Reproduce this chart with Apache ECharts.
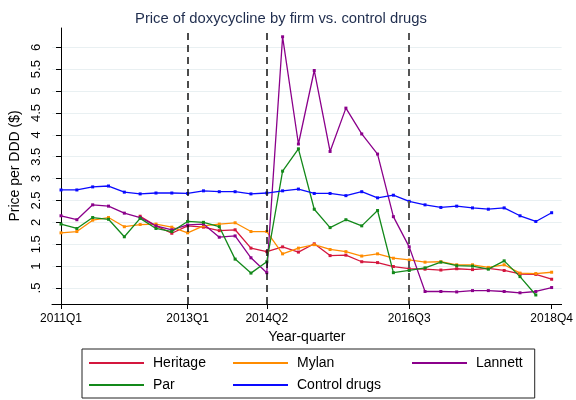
<!DOCTYPE html>
<html>
<head>
<meta charset="utf-8">
<script src="https://cdn.jsdelivr.net/npm/echarts@6/dist/echarts.min.js"></script>
<style>
  html, body { margin: 0; padding: 0; background: #fff; }
  #chart { width: 576px; height: 400px; }
</style>
</head>
<body>
<div id="chart"></div>
<script>
// quarters 2011Q1 .. 2018Q4
const quarters = [
  '2011Q1','2011Q2','2011Q3','2011Q4','2012Q1','2012Q2','2012Q3','2012Q4',
  '2013Q1','2013Q2','2013Q3','2013Q4','2014Q1','2014Q2','2014Q3','2014Q4',
  '2015Q1','2015Q2','2015Q3','2015Q4','2016Q1','2016Q2','2016Q3','2016Q4',
  '2017Q1','2017Q2','2017Q3','2017Q4','2018Q1','2018Q2','2018Q3','2018Q4'
]
const xTickLabels = ['2011Q1', '2013Q1', '2014Q2', '2016Q3', '2018Q4']
const eventQuarters = ['2013Q1', '2014Q2', '2016Q3']
const yTicks = [0.5, 1, 1.5, 2, 2.5, 3, 3.5, 4, 4.5, 5, 5.5, 6]

// price per DDD ($)
const heritage = [null, null, null, null, null, 2.14, 1.92, 1.75,
  1.92, 1.89, 1.81, 1.83, 1.41, 1.33, 1.44, 1.32,
  1.51, 1.24, 1.25, 1.10, 1.08, 0.99, 0.94, 0.93,
  0.91, 0.94, 0.92, 0.95, 0.90, 0.82, 0.81, 0.70]
const mylan = [1.76, 1.79, 2.05, 2.11, 1.90, 1.95, 1.96, 1.89,
  1.76, 1.92, 1.96, 1.99, 1.79, 1.79, 1.28, 1.41,
  1.49, 1.38, 1.33, 1.23, 1.28, 1.18, 1.14, 1.09,
  1.10, 1.03, 1.03, 0.97, 1.03, 0.84, 0.83, 0.86]
const lannett = [2.15, 2.06, 2.40, 2.37, 2.21, 2.11, 1.92, 1.83,
  1.94, 1.96, 1.66, 1.69, 1.19, 0.85, 6.24, 3.79,
  5.47, 3.62, 4.61, 4.02, 3.56, 2.13, 1.44, 0.42,
  0.42, 0.41, 0.44, 0.44, 0.42, 0.39, 0.42, 0.51]
const par = [1.96, 1.86, 2.11, 2.07, 1.67, 2.09, 1.86, 1.79,
  2.02, 2.00, 1.90, 1.16, 0.84, 1.10, 3.17, 3.68,
  2.30, 1.88, 2.06, 1.92, 2.27, 0.85, 0.90, 0.96,
  1.09, 1.01, 1.00, 0.93, 1.12, 0.76, 0.34, null]
const control = [2.74, 2.74, 2.81, 2.83, 2.69, 2.65, 2.67, 2.67,
  2.66, 2.72, 2.70, 2.70, 2.65, 2.67, 2.72, 2.76,
  2.66, 2.66, 2.61, 2.70, 2.56, 2.62, 2.48, 2.40,
  2.34, 2.37, 2.33, 2.30, 2.33, 2.15, 2.02, 2.22]

const font = 'Liberation Sans, Arial, sans-serif'

function pts(arr) {
  return arr.map((v, i) => [i, v === null ? '-' : v])
}

function line(name, arr, color) {
  return {
    name: name,
    type: 'line',
    data: pts(arr),
    symbol: 'rect',
    symbolSize: 3,
    showAllSymbol: true,
    itemStyle: { color: color },
    lineStyle: { color: color, width: 1.3 },
    connectNulls: false
  }
}

let chart = echarts.init(document.getElementById('chart'))

let series = [
  line('Heritage', heritage, '#d4173e'),
  line('Mylan', mylan, '#ff8c00'),
  line('Lannett', lannett, '#8b008b'),
  line('Par', par, '#13891a'),
  line('Control drugs', control, '#0a0aff')
]
// dashed event lines
series[4].markLine = {
  silent: true,
  symbol: ['none', 'none'],
  label: { show: false },
  animation: false,
  data: eventQuarters.map((q, k) => ({
    xAxis: quarters.indexOf(q),
    lineStyle: {
      color: k === 2 ? '#555' : '#111',
      width: k === 2 ? 2 : 1.5,
      type: [7, 5]
    }
  }))
}

chart.setOption({
  animation: false,
  textStyle: { fontFamily: font },
  title: {
    text: 'Price of doxycycline by firm vs. control drugs',
    left: 276,
    textAlign: 'center',
    top: 6,
    textStyle: { fontSize: 14.8, fontWeight: 'normal', color: '#1f2d4e', fontFamily: font }
  },
  grid: {
    left: 52,
    right: 11,
    top: 28,
    bottom: 96,
    containLabel: false
  },
  legend: {
    left: 82,
    top: 349,
    width: 440,
    orient: 'horizontal',
    padding: [6, 12, 5, 7],
    itemGap: 6,
    itemWidth: 55,
    itemHeight: 2,
    icon: 'rect',
    borderColor: '#222',
    borderWidth: 1,
    backgroundColor: '#fff',
    textStyle: {
      fontSize: 14,
      color: '#000',
      lineHeight: 16,
      padding: [0, 0, 0, 4],
      fontFamily: font
    },
    data: [
      { name: 'Heritage', textStyle: { width: 74 } },
      { name: 'Mylan', textStyle: { width: 109 } },
      { name: 'Lannett', textStyle: { width: 46 } },
      { name: 'Par', textStyle: { width: 74 } },
      { name: 'Control drugs', textStyle: { width: 109 } }
    ]
  },
  xAxis: {
    type: 'value',
    min: -0.57,
    max: 31.63,
    name: 'Year-quarter',
    nameLocation: 'middle',
    nameGap: 23,
    nameTextStyle: { fontSize: 14, color: '#000' },
    axisLine: { lineStyle: { color: '#000', width: 1 } },
    axisTick: {
      length: 5,
      lineStyle: { color: '#000' },
      customValues: xTickLabels.map(q => quarters.indexOf(q))
    },
    axisLabel: {
      fontSize: 12,
      color: '#000',
      margin: 9,
      customValues: xTickLabels.map(q => quarters.indexOf(q)),
      formatter: v => quarters[Math.round(v)]
    },
    splitLine: { show: false }
  },
  yAxis: {
    type: 'value',
    min: 0.134,
    max: 6.441,
    splitNumber: 13,
    name: 'Price per DDD ($)',
    nameLocation: 'middle',
    nameGap: 24,
    nameTextStyle: { fontSize: 14, color: '#000' },
    axisLine: { show: true, lineStyle: { color: '#000', width: 1 } },
    axisTick: {
      show: true,
      length: 5,
      lineStyle: { color: '#000' },
      customValues: yTicks
    },
    axisLabel: {
      fontSize: 13,
      color: '#000',
      rotate: 90,
      margin: 9,
      customValues: yTicks,
      formatter: v => (v === 0.5 ? '.5' : String(v))
    },
    splitLine: { show: true, lineStyle: { color: '#e9f0f2', width: 1 } }
  },
  series: series
})
</script>
</body>
</html>
